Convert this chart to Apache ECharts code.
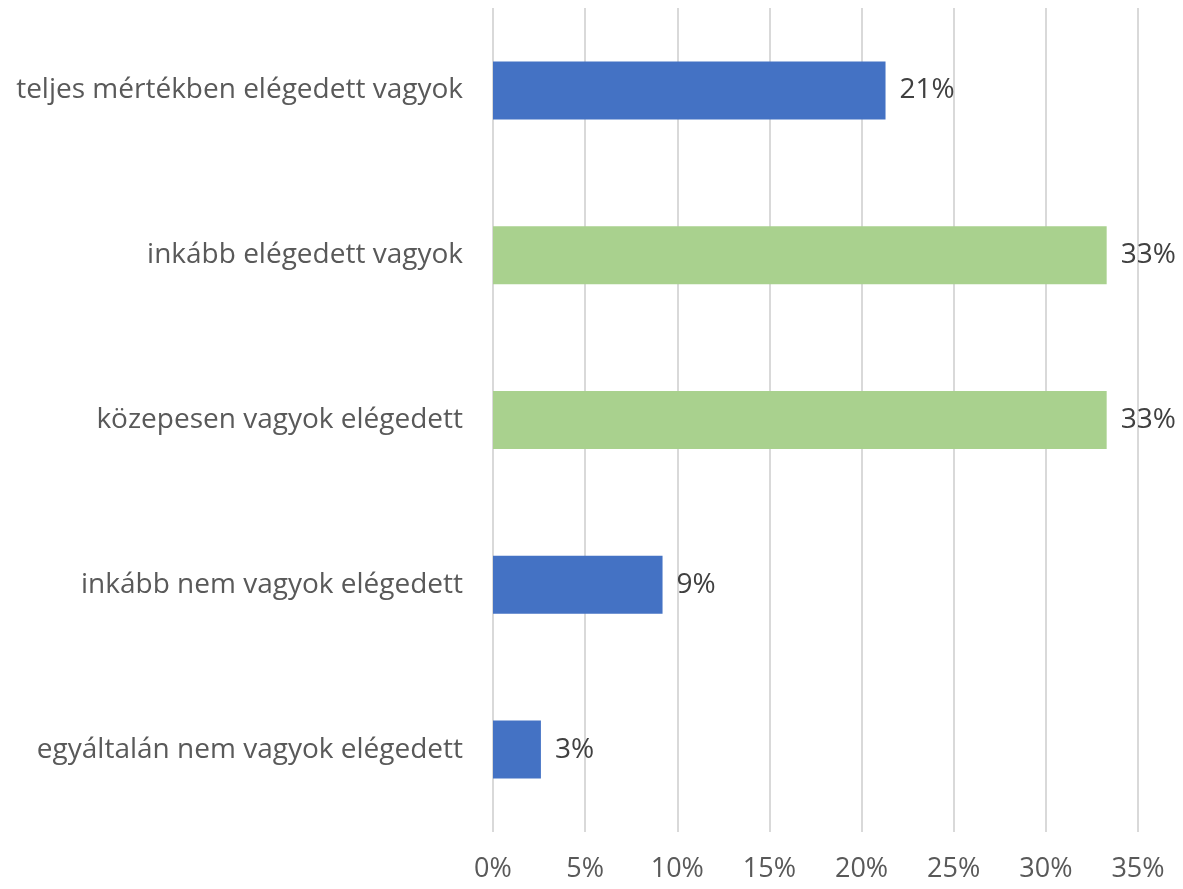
<!DOCTYPE html>
<html>
<head>
<meta charset="utf-8">
<script src="https://cdn.jsdelivr.net/npm/echarts@6/dist/echarts.min.js"></script>
<style>
  html, body { margin: 0; padding: 0; background: #fff; }
  #main { width: 1183px; height: 889px; }
</style>
</head>
<body>
<div id="main"></div>
<script>
// answers, top to bottom
const categories = [
  'teljes mértékben elégedett vagyok',
  'inkább elégedett vagyok',
  'közepesen vagyok elégedett',
  'inkább nem vagyok elégedett',
  'egyáltalán nem vagyok elégedett'
];
const values = [21.3, 33.3, 33.3, 9.2, 2.6];
const barColors = ['#4472C4', '#A9D18E', '#A9D18E', '#4472C4', '#4472C4'];

const font = '"Open Sans", "Noto Sans", sans-serif';

const chart = echarts.init(document.getElementById('main'));
chart.setOption({
  animation: false,
  grid: { left: 493, right: 45, top: 8, bottom: 57, containLabel: false },
  xAxis: {
    type: 'value',
    min: 0,
    max: 35,
    interval: 5,
    axisLine: { show: false },
    axisTick: { show: false },
    splitLine: { lineStyle: { color: '#d9d9d9', width: 2 } },
    axisLabel: {
      formatter: '{value}%',
      color: '#595959',
      fontFamily: font,
      fontSize: 27,
      margin: 24
    }
  },
  yAxis: {
    type: 'category',
    inverse: true,
    data: categories,
    axisLine: { show: false },
    axisTick: { show: false },
    axisLabel: {
      color: '#595959',
      fontFamily: font,
      fontSize: 28,
      margin: 30
    }
  },
  series: [{
    type: 'bar',
    barWidth: 58,
    data: values.map((v, i) => ({ value: v, itemStyle: { color: barColors[i] } })),
    label: {
      show: true,
      position: 'right',
      distance: 14,
      color: '#404040',
      fontFamily: font,
      fontSize: 28,
      formatter: p => Math.round(p.value) + '%'
    }
  }]
});
</script>
</body>
</html>
